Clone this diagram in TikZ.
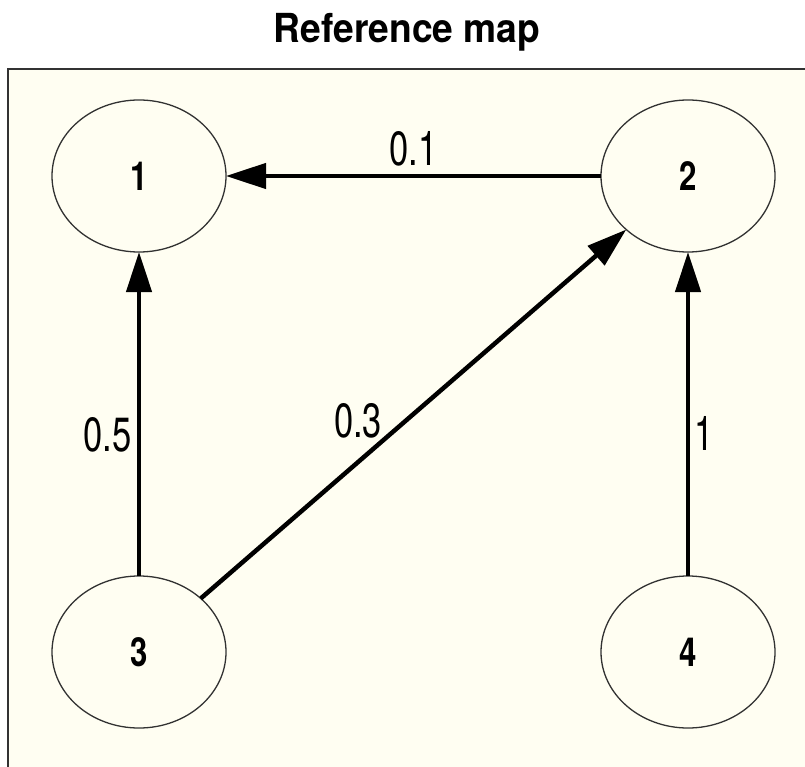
\documentclass[tikz,border=0pt]{standalone}
\usepackage{fontspec}
\setmainfont{TeX Gyre Heros}
\newfontfamily\narrowfont[FakeStretch=0.72]{TeX Gyre Heros}
\newfontfamily\nodefont[FakeStretch=0.78]{TeX Gyre Heros}
\newfontfamily\titlefont[FakeStretch=0.93]{TeX Gyre Heros}
\usetikzlibrary{shapes.geometric,arrows.meta}
\definecolor{paper}{RGB}{255,254,242}
\definecolor{outline}{RGB}{50,50,50}
\begin{document}
\begin{tikzpicture}[x=1pt,y=-1pt,
  state/.style={ellipse,draw=outline,line width=1.3pt,minimum width=174pt,minimum height=152pt,
    inner sep=0pt,outer sep=0pt,font=\nodefont\bfseries\fontsize{40}{44}\selectfont},
  link/.style={line width=4.5pt,-{Triangle[length=40pt,width=25pt]}},
  wlabel/.style={inner sep=0pt,font=\narrowfont\fontsize{48}{52}\selectfont}]
\useasboundingbox (0,0) rectangle (805,767);
\clip (0,0) rectangle (805,767);
\draw[outline,line width=1.5pt,fill=paper] (8,69) rectangle (830,790);
\node[anchor=base,font=\titlefont\bfseries\fontsize{40}{44}\selectfont,inner sep=0pt] (title) at (407,43) {Reference map};
\node[state] (n1) at (139,176) {1};
\node[state] (n2) at (688,176) {2};
\node[state] (n3) at (139,652) {3};
\node[state] (n4) at (688,652) {4};
\draw[link] (n2) -- (n1) node[wlabel,pos=0.5,anchor=base,yshift=10pt] {0.1};
\draw[link] (n3) -- (n1) node[wlabel,pos=0.435,anchor=east,xshift=-5pt] {0.5};
\draw[link] (n4) -- (n2) node[wlabel,pos=0.44,anchor=west,xshift=4pt] {1};
\draw[link] (n3) -- (n2) node[wlabel,pos=0.427,anchor=south east,xshift=2pt] {0.3};
\end{tikzpicture}
\end{document}
